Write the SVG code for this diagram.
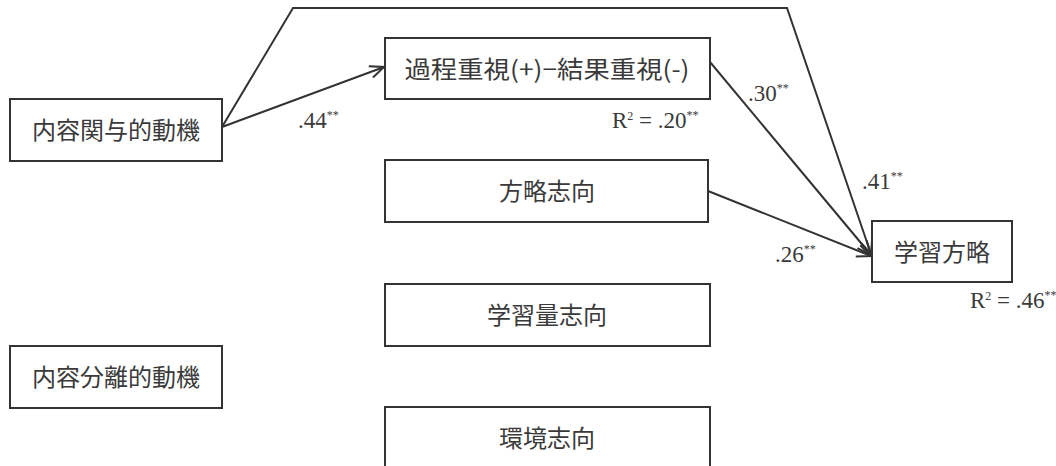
<svg xmlns="http://www.w3.org/2000/svg" width="1056" height="466" viewBox="0 0 1056 466">
<style>
.box{fill:#fff;stroke:#333;stroke-width:2}
.lbl{font-family:"Noto Sans CJK JP",sans-serif;font-size:24px;fill:#3a3a3a;text-anchor:middle}
.num{font-family:"Liberation Serif",serif;font-size:23px;fill:#3a3a3a}
.sup{font-size:12px}
.conn{fill:none;stroke:#333;stroke-width:2}
</style>
<defs>
<marker id="arr" markerUnits="userSpaceOnUse" markerWidth="20" markerHeight="16" refX="15" refY="7" orient="auto">
<path d="M1,1 L15,7 L1,13" fill="none" stroke="#333" stroke-width="2"/>
</marker>
</defs>
<rect width="1056" height="466" fill="#fff"/>
<g id="connectors">
<path class="conn" d="M222,127 L384,67" marker-end="url(#arr)"/>
<path class="conn" d="M222,127 L293,8 L787,8 L871,254" marker-end="url(#arr)"/>
<path class="conn" d="M710,62 L871,255" marker-end="url(#arr)"/>
<path class="conn" d="M708,191 L871,256" marker-end="url(#arr)"/>
</g>
<g id="n1"><rect class="box" x="10" y="99" width="212" height="62"/><text class="lbl" x="116" y="139">内容関与的動機</text></g>
<g id="n2"><rect class="box" x="385" y="38" width="325" height="61"/><text class="lbl" x="547" y="78" textLength="285" lengthAdjust="spacingAndGlyphs">過程重視(+)−結果重視(-)</text></g>
<g id="n3"><rect class="box" x="385" y="160" width="323" height="62"/><text class="lbl" x="547" y="200">方略志向</text></g>
<g id="n4"><rect class="box" x="385" y="284" width="325" height="62"/><text class="lbl" x="547" y="324">学習量志向</text></g>
<g id="n5"><rect class="box" x="385" y="407" width="325" height="70"/><text class="lbl" x="547" y="447">環境志向</text></g>
<g id="n6"><rect class="box" x="10" y="346" width="212" height="62"/><text class="lbl" x="116" y="386">内容分離的動機</text></g>
<g id="n7"><rect class="box" x="872" y="221" width="140" height="61"/><text class="lbl" x="942" y="261">学習方略</text></g>
<g id="labels">
<text class="num" x="298" y="128">.44<tspan class="sup" dy="-9">**</tspan></text>
<text class="num" x="612" y="128" font-size="20">R<tspan class="sup" dy="-8">2</tspan><tspan dy="8"> = .20</tspan><tspan class="sup" dy="-9">**</tspan></text>
<text class="num" x="748" y="101">.30<tspan class="sup" dy="-9">**</tspan></text>
<text class="num" x="862" y="189">.41<tspan class="sup" dy="-9">**</tspan></text>
<text class="num" x="775" y="262">.26<tspan class="sup" dy="-9">**</tspan></text>
<text class="num" x="970" y="308" font-size="20">R<tspan class="sup" dy="-8">2</tspan><tspan dy="8"> = .46</tspan><tspan class="sup" dy="-9">**</tspan></text>
</g>
</svg>
